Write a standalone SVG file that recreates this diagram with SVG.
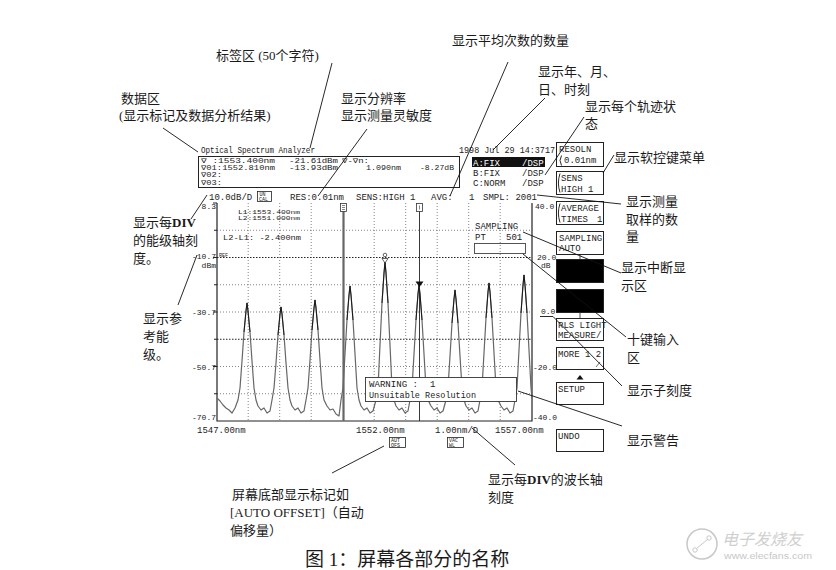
<svg xmlns="http://www.w3.org/2000/svg" width="836" height="570" viewBox="0 0 836 570">
<style>
.l{font-family:"Liberation Serif","Noto Sans CJK SC",serif;font-size:13px;fill:#1a1a1a}
.s{font-family:"Liberation Mono","DejaVu Sans Mono",monospace;font-size:9px;fill:#222}
.t{font-family:"Liberation Mono","DejaVu Sans Mono",monospace;font-size:8px;fill:#222}
.d{font-family:"Liberation Mono","DejaVu Sans Mono",monospace;font-size:6.5px;fill:#222}
.u{font-family:"Liberation Mono","DejaVu Sans Mono",monospace;font-size:5px;fill:#222}
.k{fill:#fff;stroke:#222;stroke-width:1}
.kb{fill:#000;stroke:#222;stroke-width:1}
.ld{stroke:#111;stroke-width:0.9;fill:none}
.g{stroke:#666;stroke-width:0.8;stroke-dasharray:1 2;fill:none}
.gd{stroke:#222;stroke-width:1;stroke-dasharray:1.5 1.5;fill:none}
.ax{stroke:#222;stroke-width:1.2;fill:none}
</style>
<rect width="836" height="570" fill="#fff"/>

<g id="header">
<text class="s" x="201" y="153" textLength="114" lengthAdjust="spacingAndGlyphs">Optical Spectrum Analyzer</text>
<text class="s" x="459" y="153" textLength="96" lengthAdjust="spacingAndGlyphs">1998 Jul 29 14:3717</text>
</g>

<g id="data-area">
<rect x="198.5" y="156.5" width="261" height="31" fill="none" stroke="#222"/>
<text class="d" x="201" y="163" textLength="74" lengthAdjust="spacingAndGlyphs">∇  :1553.400nm</text>
<text class="d" x="289" y="163" textLength="49" lengthAdjust="spacingAndGlyphs">-21.61dBm</text>
<text class="d" x="342" y="163" textLength="27" lengthAdjust="spacingAndGlyphs">∇-∇n:</text>
<text class="d" x="201" y="170.2" textLength="74" lengthAdjust="spacingAndGlyphs">∇01:1552.810nm</text>
<text class="d" x="289" y="170.2" textLength="49" lengthAdjust="spacingAndGlyphs">-13.93dBm</text>
<text class="d" x="366" y="170.2" textLength="35" lengthAdjust="spacingAndGlyphs">1.090nm</text>
<text class="d" x="420" y="170.2" textLength="34" lengthAdjust="spacingAndGlyphs">-8.27dB</text>
<text class="d" x="201" y="177.4" textLength="21" lengthAdjust="spacingAndGlyphs">∇02:</text>
<text class="d" x="201" y="184.6" textLength="21" lengthAdjust="spacingAndGlyphs">∇03:</text>
</g>

<g id="trace-status">
<rect x="472" y="157" width="73" height="10" fill="#111"/>
<text class="s" x="473" y="165.5" style="fill:#fff">A:FIX</text>
<text class="s" x="522" y="165.5" style="fill:#fff">/DSP</text>
<text class="s" x="473" y="176">B:FIX</text>
<text class="s" x="522" y="176">/DSP</text>
<text class="s" x="473" y="186">C:NORM</text>
<text class="s" x="522" y="186">/DSP</text>
</g>

<g id="status-row">
<text class="s" x="209" y="200">10.0dB/D</text>
<rect x="257.5" y="191.5" width="14" height="10" fill="#fff" stroke="#222" stroke-width="0.8"/>
<text class="u" x="259.5" y="196">UN</text>
<text class="u" x="259" y="200.5">CAL</text>
<text class="s" x="290" y="200">RES:0.01nm</text>
<text class="s" x="356" y="200">SENS:HIGH 1</text>
<text class="s" x="431" y="200">AVG:</text>
<text class="s" x="469" y="200">1</text>
<text class="s" x="483" y="200">SMPL: 2001</text>
</g>

<g id="plot">
<g id="grid">
<path class="g" d="M217,230.25H532M217,284.75H532M217,312H532M217,366.5H532M217,393.75H532"/>
<path class="gd" d="M217,257.5H532M217,339.25H532"/>
<path class="g" d="M248.2,203V421M279.7,203V421M311.2,203V421M374.2,203V421M405.7,203V421M437.2,203V421M468.7,203V421M500.2,203V421"/>
</g>
<path class="ax" d="M217,203V421H532V203"/>
<path stroke="#222" stroke-width="1" d="M213,203H217M214,230.25H217M213,257.5H217M214,284.75H217M213,312H217M214,339.25H217M213,366.5H217M214,393.75H217"/>
<text class="t" x="216" y="209" text-anchor="end">8.3</text>
<text class="t" x="216" y="259" text-anchor="end">-10.7</text>
<text class="u" x="219" y="257">REF</text>
<text class="t" x="216" y="268" text-anchor="end">dBm</text>
<text class="t" x="216" y="315" text-anchor="end">-30.7</text>
<text class="t" x="216" y="370" text-anchor="end">-50.7</text>
<text class="t" x="216" y="420" text-anchor="end">-70.7</text>
<text class="t" x="535" y="209">40.0</text>
<text class="t" x="537" y="260">20.0</text>
<text class="t" x="541" y="268">dB</text>
<text class="t" x="541" y="314">0.0</text>
<text class="t" x="533" y="370">-20.0</text>
<text class="t" x="533" y="420">-40.0</text>
<text class="s" x="197" y="433">1547.00nm</text>
<text class="s" x="356" y="433">1552.00nm</text>
<text class="s" x="435" y="433">1.00nm/D</text>
<text class="s" x="495" y="433">1557.00nm</text>
<rect x="389.5" y="437.5" width="16" height="10" fill="#fff" stroke="#222" stroke-width="0.8"/>
<text class="u" x="391" y="442">AUT</text>
<text class="u" x="391" y="446.5">OFS</text>
<rect x="447.5" y="437.5" width="16" height="10" fill="#fff" stroke="#222" stroke-width="0.8"/>
<text class="u" x="449" y="442">VAC</text>
<text class="u" x="449" y="446.5">WL</text>

<text class="u" x="238" y="213.5" textLength="62" lengthAdjust="spacingAndGlyphs" style="font-size:5.5px">L1:1553.400nm</text>
<text class="u" x="238" y="219.5" textLength="62" lengthAdjust="spacingAndGlyphs" style="font-size:5.5px">L2:1551.000nm</text>
<text class="d" x="223" y="240" textLength="78" lengthAdjust="spacingAndGlyphs">L2-L1:   -2.400nm</text>

<text class="s" x="475" y="229">SAMPLING</text>
<text class="s" x="475" y="240">PT</text>
<text class="s" x="506" y="240">501</text>
<rect x="474.5" y="243.5" width="51" height="10" fill="none" stroke="#444" stroke-width="0.9"/>

<path id="trace" fill="none" stroke="#666" stroke-width="1.2" stroke-linejoin="round" d="M217,398 L220,401 L223,405 L226,408 L229,410 L232,413 L235,408 L238,400 L240,388 L242,361 L244,332 L246,311 L247,303 L248,311 L250,332 L252,361 L254,388 L256,400 L258,406 L261,410 L264,408 L267,413 L270,411 L272,400 L274,388 L276,363 L278,335 L280,314 L281,307 L282,314 L284,335 L286,363 L288,388 L290,400 L292,406 L295,410 L298,408 L301,413 L304,411 L306,400 L308,388 L310,360 L312,330 L314,308 L315,300 L316,308 L318,330 L320,360 L322,388 L324,400 L327,406 L330,410 L333,409 L336,414 L339,416 L341,400 L343,388 L345,354 L347,320 L349,295 L350,286 L351,295 L353,320 L355,354 L357,388 L359,400 L361,406 L364,410 L367,408 L370,413 L373,411 L376,400 L378,388 L380,345 L382,303 L384,273 L385,262 L386,273 L388,303 L390,345 L392,388 L394,400 L396,406 L399,410 L402,408 L405,413 L408,411 L410,400 L412,388 L414,354 L416,320 L418,294 L419,285 L420,294 L422,320 L424,354 L426,388 L428,400 L431,406 L434,410 L437,408 L440,413 L443,411 L446,400 L448,388 L450,356 L452,323 L454,299 L455,290 L456,299 L458,323 L460,356 L462,388 L464,400 L466,406 L469,410 L472,408 L475,413 L478,411 L480,400 L482,388 L484,353 L486,318 L488,292 L489,283 L490,292 L492,318 L494,353 L496,388 L498,400 L501,406 L504,410 L507,408 L510,413 L513,411 L515,400 L517,388 L519,350 L521,313 L523,285 L524,275 L525,285 L527,313 L529,350 L531,388 L532,398"/>
<path fill="none" stroke="#111" stroke-width="0.9" d="M244,332 L246,311 L247,303 L248,311 L250,332 M278,335 L280,314 L281,307 L282,314 L284,335 M312,330 L314,308 L315,300 L316,308 L318,330 M347,320 L349,295 L350,286 L351,295 L353,320 M382,303 L384,273 L385,262 L386,273 L388,303 M416,320 L418,294 L419,285 L420,294 L422,320 M452,323 L454,299 L455,290 L456,299 L458,323 M486,318 L488,292 L489,283 L490,292 L492,318 M521,313 L523,285 L524,275 L525,285 L527,313"/>

<line x1="343.5" y1="211" x2="343.5" y2="421" stroke="#666" stroke-width="2.2"/>
<rect x="340.5" y="203.5" width="6" height="8" fill="#fff" stroke="#333" stroke-width="0.8"/>
<path d="M342,205.5H345M342,207.5H345M342,209.5H345" stroke="#333" stroke-width="0.6"/>
<line x1="419.5" y1="211" x2="419.5" y2="421" stroke="#222" stroke-width="0.9"/>
<rect x="416.5" y="203.5" width="6" height="8" fill="#fff" stroke="#333" stroke-width="0.8"/>
<path d="M419.5,205.5V209.5" stroke="#333" stroke-width="0.6"/>
<polygon points="415.5,281.5 423.5,281.5 419.5,287" fill="#111"/>
<polygon points="382,258.5 388,258.5 385,263" fill="#fff" stroke="#222" stroke-width="0.7"/>
<circle cx="385" cy="255" r="1.8" fill="none" stroke="#222" stroke-width="0.7"/>

<rect x="365.5" y="377.5" width="151" height="24" fill="#fff" stroke="#333" stroke-width="0.9"/>
<text class="s" x="369" y="387" textLength="49" lengthAdjust="spacingAndGlyphs">WARNING :</text>
<text class="s" x="430" y="387">1</text>
<text class="s" x="369" y="397.5" textLength="107" lengthAdjust="spacingAndGlyphs">Unsuitable Resolution</text>
</g>

<g id="menu">
<g id="key-resoln"><rect class="k" x="556.5" y="142.5" width="47" height="24"/><text class="s" x="559" y="151.5">RESOLN</text><path class="ld" d="M561.5,155.5 Q558.5,160.5 561.5,165.5" stroke-width="0.7"/><text class="s" x="564" y="162.5">0.01nm</text></g>
<g id="key-sens"><rect class="k" x="556.5" y="171.5" width="47" height="23"/><path class="ld" d="M560,173.5 Q556.8,183 560,192.5" stroke-width="0.7"/><text class="s" x="561" y="181">SENS</text><text class="s" x="561" y="191.5">HIGH 1</text></g>
<g id="key-average"><rect class="k" x="556.5" y="201.5" width="47" height="23"/><path class="ld" d="M560,203.5 Q556.8,213 560,222.5" stroke-width="0.7"/><text class="s" x="561" y="211">AVERAGE</text><text class="s" x="561" y="221.5">TIMES</text><text class="s" x="597" y="221.5">1</text></g>
<g id="key-sampling"><rect class="k" x="556.5" y="231.5" width="47" height="23"/><text class="s" x="559" y="241">SAMPLING</text><text class="s" x="559" y="251">AUTO</text></g>
<g id="key-interrupt"><rect class="kb" x="556.5" y="259.5" width="47" height="23"/></g>
<g id="key-input"><rect class="kb" x="556.5" y="289.5" width="47" height="23"/></g>
<path d="M580,254.5V259.5M580,312.5V318.5" stroke="#222" stroke-width="0.8"/>
<g id="key-rls"><rect class="k" x="556.5" y="318.5" width="47" height="22"/><text class="s" x="558" y="328">RLS LIGHT</text><text class="s" x="558" y="337.5">MEASURE</text><text class="s" x="596" y="337.5">/</text></g>
<g id="key-more"><rect class="k" x="556.5" y="347.5" width="47" height="22"/><text class="s" x="558" y="357">MORE 1 2</text><path d="M596,367 L600,362" stroke="#333" stroke-width="0.7"/></g>
<polygon points="576.5,379.5 583.5,379.5 580,375" fill="#111"/>
<g id="key-setup"><rect class="k" x="556.5" y="382.5" width="47" height="22"/><text class="s" x="558" y="392">SETUP</text></g>
<g id="key-undo"><rect class="k" x="556.5" y="429.5" width="47" height="22"/><text class="s" x="558" y="439">UNDO</text></g>
</g>

<g id="connectors">
<line class="ld" x1="332" y1="63" x2="310" y2="148"/>
<line class="ld" x1="163" y1="128" x2="198" y2="152"/>
<line class="ld" x1="367" y1="129" x2="318" y2="196"/>
<line class="ld" x1="508" y1="62" x2="450" y2="196"/>
<line class="ld" x1="545" y1="98" x2="493" y2="150"/>
<line class="ld" x1="584" y1="117" x2="545" y2="175"/>
<line class="ld" x1="614" y1="155" x2="603" y2="173"/>
<line class="ld" x1="537" y1="195" x2="621" y2="204"/>
<line class="ld" x1="523" y1="232" x2="621" y2="273"/>
<line class="ld" x1="523" y1="254" x2="626" y2="337"/>
<polyline class="ld" points="540,316.5 553,316.5 622,386"/>
<line class="ld" x1="518" y1="391" x2="622" y2="426"/>
<line class="ld" x1="207" y1="195" x2="191" y2="219"/>
<line class="ld" x1="197" y1="255" x2="178" y2="305"/>
<line class="ld" x1="384" y1="446" x2="332" y2="473"/>
<line class="ld" x1="472" y1="428" x2="515" y2="465"/>
</g>

<g id="labels">
<g id="lbl-label"><text class="l" x="216" y="60">标签区 (50个字符)</text></g>
<g id="lbl-data"><text class="l" x="121" y="103">数据区</text><text class="l" x="119" y="120">(显示标记及数据分析结果)</text></g>
<g id="lbl-res"><text class="l" x="341" y="103">显示分辨率</text><text class="l" x="341" y="120">显示测量灵敏度</text></g>
<g id="lbl-avg"><text class="l" x="452" y="45">显示平均次数的数量</text></g>
<g id="lbl-date"><text class="l" x="538" y="76">显示年、月、</text><text class="l" x="538" y="94">日、时刻</text></g>
<g id="lbl-trace"><text class="l" x="585" y="111">显示每个轨迹状</text><text class="l" x="585" y="128">态</text></g>
<g id="lbl-softkey"><text class="l" x="614" y="162">显示软控键菜单</text></g>
<g id="lbl-sample"><text class="l" x="626" y="206">显示测量</text><text class="l" x="626" y="224">取样的数</text><text class="l" x="626" y="241">量</text></g>
<g id="lbl-interrupt"><text class="l" x="621" y="272">显示中断显</text><text class="l" x="621" y="290">示区</text></g>
<g id="lbl-tenkey"><text class="l" x="627" y="344">十键输入</text><text class="l" x="627" y="362">区</text></g>
<g id="lbl-subscale"><text class="l" x="627" y="395">显示子刻度</text></g>
<g id="lbl-warning"><text class="l" x="627" y="445">显示警告</text></g>
<g id="lbl-level"><text class="l" x="133" y="227">显示每<tspan font-weight="bold">DIV</tspan></text><text class="l" x="133" y="245">的能级轴刻</text><text class="l" x="133" y="263">度。</text></g>
<g id="lbl-ref"><text class="l" x="143" y="323">显示参</text><text class="l" x="143" y="341">考能</text><text class="l" x="143" y="359">级。</text></g>
<g id="lbl-bottom"><text class="l" x="232" y="499">屏幕底部显示标记如</text><text class="l" x="230" y="517">[AUTO OFFSET]（自动</text><text class="l" x="230" y="535">偏移量）</text></g>
<g id="lbl-wl"><text class="l" x="488" y="484">显示每<tspan font-weight="bold">DIV</tspan>的波长轴</text><text class="l" x="488" y="502">刻度</text></g>
</g>

<text class="l" x="305" y="566" style="font-size:19px">图 1：屏幕各部分的名称</text>

<g id="watermark">
<circle cx="702" cy="544" r="15" fill="none" stroke="#c8c8c8" stroke-width="1.5"/>
<circle cx="695" cy="550" r="2.2" fill="none" stroke="#c8c8c8" stroke-width="1"/>
<circle cx="709" cy="538" r="2.2" fill="none" stroke="#c8c8c8" stroke-width="1"/>
<line x1="696.5" y1="548.5" x2="707.5" y2="539.5" stroke="#c8c8c8" stroke-width="1"/>
<text x="722" y="545" style="font-family:'Noto Sans CJK SC',sans-serif;font-size:16px;font-style:italic;fill:#cfcfcf">电子发烧友</text>
<text x="724" y="559" style="font-family:'Liberation Sans',sans-serif;font-size:8.5px;fill:#c8c8c8" textLength="88" lengthAdjust="spacingAndGlyphs">www.elecfans.com</text>
</g>
</svg>
